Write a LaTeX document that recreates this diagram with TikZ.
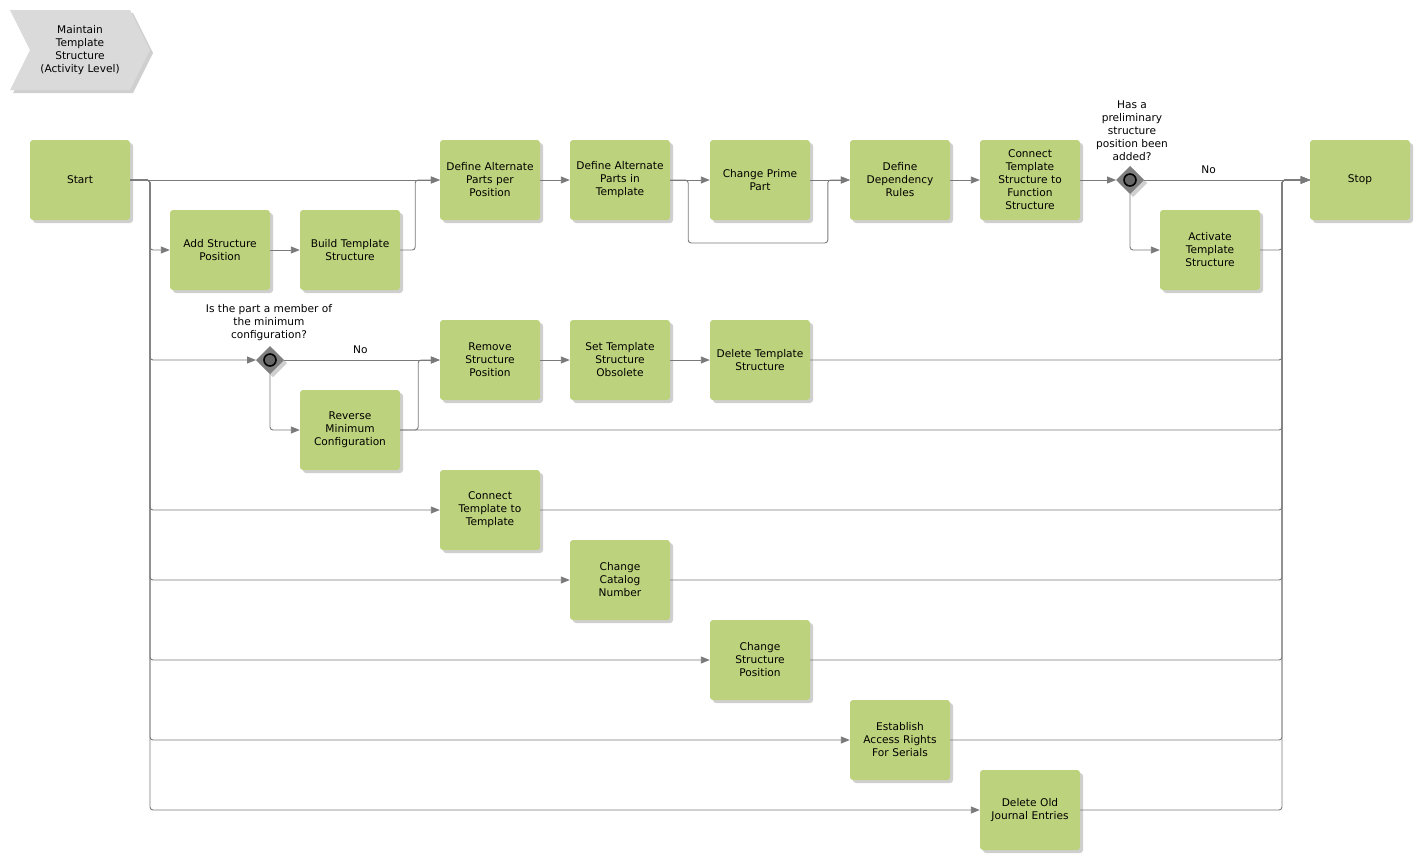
\documentclass[tikz,border=0pt]{standalone}
\usepackage{fontspec}
\setmainfont{DejaVu Sans}
\usetikzlibrary{arrows.meta,calc}
\definecolor{boxgreen}{HTML}{BDD27C}
\definecolor{linegray}{HTML}{7A7A7A}
\definecolor{shadowgray}{HTML}{CFCFCF}
\definecolor{chevgray}{HTML}{DADADA}
\definecolor{gwgray}{HTML}{7F7F7F}
\tikzset{
  task/.style={draw=none, fill=boxgreen, rounded corners=3pt, minimum width=100pt, minimum height=80pt,
    text width=96pt, align=center, font=\fontsize{10.6}{13}\selectfont, inner sep=0pt,
    preaction={fill=shadowgray, transform canvas={shift={(3pt,-3pt)}}}},
  conn/.style={draw=linegray, line width=0.9pt, rounded corners=3pt, -{Triangle[length=9pt,width=7pt]}},
  lbl/.style={font=\fontsize{10.6}{13}\selectfont, align=center, inner sep=0pt},
}
\newcommand{\gateway}[1]{%
  \fill[shadowgray] ($(#1)+(-11,3)$) -- ++(14,14) -- ++(14,-14) -- ++(-14,-14) -- cycle;
  \fill[gwgray] ($(#1)+(-14,0)$) -- ++(14,14) -- ++(14,-14) -- ++(-14,-14) -- cycle;
  \draw[black, line width=1.6pt, fill=gwgray!80!black] (#1) circle (6pt);
}
\begin{document}
\begin{tikzpicture}[x=1pt,y=-1pt]
\useasboundingbox (0,0) rectangle (1420,860);
% chevron
\fill[shadowgray] (13,13) -- (133,13) -- (153,53) -- (133,93) -- (13,93) -- (33,53) -- cycle;
\fill[chevgray] (10,10) -- (130,10) -- (150,50) -- (130,90) -- (10,90) -- (30,50) -- cycle;
\node[lbl] (title) at (80,50) {Maintain\\Template\\Structure\\(Activity Level)};

% tasks
\node[task] (start) at (80,180) {Start};
\node[task] (add) at (220,250) {Add Structure\\Position};
\node[task] (build) at (350,250) {Build Template\\Structure};
\node[task] (dapp) at (490,180) {Define Alternate\\Parts per\\Position};
\node[task] (dapt) at (620,180) {Define Alternate\\Parts in\\Template};
\node[task] (cpp) at (760,180) {Change Prime\\Part};
\node[task] (ddr) at (900,180) {Define\\Dependency\\Rules};
\node[task] (ctsf) at (1030,180) {Connect\\Template\\Structure to\\Function\\Structure};
\node[task] (act) at (1210,250) {Activate\\Template\\Structure};
\node[task] (stop) at (1360,180) {Stop};
\node[task] (rsp) at (490,360) {Remove\\Structure\\Position};
\node[task] (sto) at (620,360) {Set Template\\Structure\\Obsolete};
\node[task] (dts) at (760,360) {Delete Template\\Structure};
\node[task] (rmc) at (350,430) {Reverse\\Minimum\\Configuration};
\node[task] (ctt) at (490,510) {Connect\\Template to\\Template};
\node[task] (ccn) at (620,580) {Change\\Catalog\\Number};
\node[task] (csp) at (760,660) {Change\\Structure\\Position};
\node[task] (ears) at (900,740) {Establish\\Access Rights\\For Serials};
\node[task] (doje) at (1030,810) {Delete Old\\Journal Entries};

% gateways
\coordinate (g1) at (1130,180);
\coordinate (g2) at (270,360);
\gateway{g1}
\gateway{g2}
\coordinate (g1w) at (1116,180);
\coordinate (g1e) at (1144,180);
\coordinate (g1s) at (1130,194);
\coordinate (g2w) at (256,360);
\coordinate (g2e) at (284,360);
\coordinate (g2s) at (270,374);
\node[lbl] (g1lab) at (1132,131) {Has a\\preliminary\\structure\\position been\\added?};
\node[lbl] (g2lab) at (269,323) {Is the part a member of\\the minimum\\configuration?};

% junction coordinates
\coordinate (js) at (150,180);
\coordinate (jstop) at (1282,180);

% connectors from Start
\draw[conn] (start.east) -- (dapp.west);
\draw[conn] (start.east) -- (js) |- (add.west);
\draw[conn] (start.east) -- (js) |- (g2w);
\draw[conn] (start.east) -- (js) |- (ctt.west);
\draw[conn] (start.east) -- (js) |- (ccn.west);
\draw[conn] (start.east) -- (js) |- (csp.west);
\draw[conn] (start.east) -- (js) |- (ears.west);
\draw[conn] (start.east) -- (js) |- (doje.west);

\draw[conn] (add.east) -- (build.west);
\draw[conn] (build.east) -- ++(15,0) |- (dapp.west);
\draw[conn] (dapp.east) -- (dapt.west);
\draw[conn] (dapt.east) -- (cpp.west);
\draw[conn] (dapt.east) -- ++(18,0) |- ++(70,63) -| ($(ddr.west)+(-22,0)$) -- (ddr.west);
\draw[conn] (cpp.east) -- (ddr.west);
\draw[conn] (ddr.east) -- (ctsf.west);
\draw[conn] (ctsf.east) -- (g1w);
\draw[conn] (g1e) -- node[lbl, above=6pt, pos=0.39] (no1) {No} (stop.west);
\draw[conn] (g1s) |- (act.west);
\draw[conn] (act.east) -| (jstop) -- (stop.west);

\draw[conn] (g2e) -- node[lbl, above=6pt, pos=0.49] (no2) {No} (rsp.west);
\draw[conn] (g2s) |- (rmc.west);
\draw[conn] (rmc.east) -- ++(18,0) |- (rsp.west);
\draw[conn] (rsp.east) -- (sto.west);
\draw[conn] (sto.east) -- (dts.west);

% connectors to Stop
\draw[conn] (dts.east) -| (jstop) -- (stop.west);
\draw[conn] (rmc.east) -| (jstop) -- (stop.west);
\draw[conn] (ctt.east) -| (jstop) -- (stop.west);
\draw[conn] (ccn.east) -| (jstop) -- (stop.west);
\draw[conn] (csp.east) -| (jstop) -- (stop.west);
\draw[conn] (ears.east) -| (jstop) -- (stop.west);
\draw[conn] (doje.east) -| (jstop) -- (stop.west);
\end{tikzpicture}
\end{document}
